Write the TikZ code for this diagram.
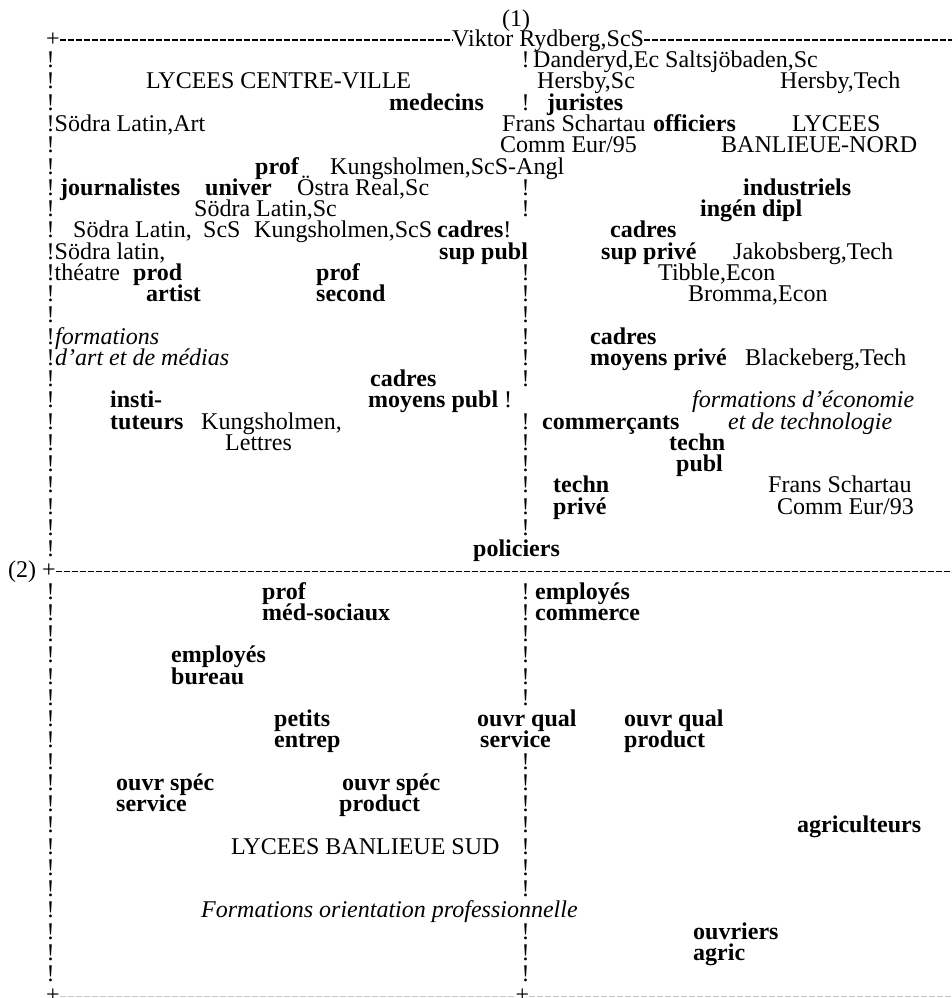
\documentclass[tikz,border=0pt]{standalone}
\usepackage{fontspec}
\setmainfont{Liberation Serif}
\newcommand\taille{\fontsize{24}{26}\selectfont}

\begin{document}
\begin{tikzpicture}[x=1pt,y=-21.25pt]
        \tikzstyle{every node}=[anchor=west,inner sep=0pt,text height=13pt,text depth=0pt,font=\taille]
        \tikzstyle{metier}=[font=\taille\bfseries]
        \tikzstyle{zone}=[font=\taille\itshape]
        \tikzstyle{axe}=[line width=1.3pt,dash pattern=on 5.9pt off 2.1pt]
        \useasboundingbox (0,-1.8824) rectangle (952,45.0824);

            % colonnes de points d'exclamation
            \foreach \r in {1,...,24,26,27,...,44}
                \node (g\r) at (46.5,\r) {!};
            \foreach \r in {1,3,7,8,11,12,...,16,18,19,...,23,26,27,...,31,34,35,...,40,42,43,44}
                \node (m\r) at (521.5,\r) {!};

            \node (un) at (502,-0.94) {(1)};
            \node (plusH) at (46,0) {+};
            \node (viktor) at (452,0) {Viktor Rydberg,ScS};
            \coordinate (finH) at (952,0);
            \node (deux) at (8,25) {(2) +};
            \coordinate (finM) at (952,25);
            \node (plusBG) at (46,45) {+};
            \node (plusBM) at (515.5,45) {+};
            \coordinate (finB) at (952,45);

            % haut gauche
            \node (lycCV) at (146,2) {LYCEES CENTRE-VILLE};
            \node[metier] (medecins) at (389,3) {medecins};
            \node (sodraArt) at (54.5,4) {Södra Latin,Art};
            \node[metier] (prof1) at (255,6) {prof};
            \node (kungsAngl) at (330,6) {Kungsholmen,ScS-Angl};
            \node[metier] (journ) at (60,7) {journalistes};
            \node[metier] (univer) at (205,7) {univer};
            \node (ostra) at (297,7) {Östra Real,Sc};
            \node (sodraSc) at (194,8) {Södra Latin,Sc};
            \node (sodraScS) at (73,9) {Södra Latin,};
            \node (scs) at (203,9) {ScS};
            \node (kungsScS) at (254,9) {Kungsholmen,ScS};
            \node (cadSupPu1) at (437,9) {\textbf{cadres}!};
            \node (sodraTh) at (54.5,10) {Södra latin,};
            \node[metier] (cadSupPu2) at (439,10) {sup publ};
            \node (theatre) at (54.5,11) {théatre};
            \node[metier] (prodArt1) at (133,11) {prod};
            \node[metier] (profSec1) at (316,11) {prof};
            \node[metier] (prodArt2) at (146,12) {artist};
            \node[metier] (profSec2) at (316,12) {second};
            \node[zone] (artMed1) at (55,14) {formations};
            \node[zone] (artMed2) at (55,15) {d'art et de médias};
            \node[metier] (cadMoyPu1) at (370,16) {cadres};
            \node[metier] (instit1) at (110,17) {insti-};
            \node (cadMoyPu2) at (368,17) {\textbf{moyens publ} !};
            \node[metier] (instit2) at (110,18) {tuteurs};
            \node (kungsLet1) at (201,18) {Kungsholmen,};
            \node (kungsLet2) at (225,19) {Lettres};

            % haut droite
            \node (danderyd) at (533,1) {Danderyd,Ec Saltsjöbaden,Sc};
            \node (hersbySc) at (537,2) {Hersby,Sc};
            \node (hersbyTech) at (780,2) {Hersby,Tech};
            \node[metier] (juristes) at (547,3) {juristes};
            \node (frans95a) at (502,4) {Frans Schartau};
            \node[metier] (officiers) at (653,4) {officiers};
            \node (lycN1) at (792,4) {LYCEES};
            \node (frans95b) at (500,5) {Comm Eur/95};
            \node (lycN2) at (721,5) {BANLIEUE-NORD};
            \node[metier] (industriels) at (743,7) {industriels};
            \node[metier] (ingen) at (700,8) {ingén dipl};
            \node[metier] (cadSupPr1) at (610,9) {cadres};
            \node[metier] (cadSupPr2) at (601,10) {sup privé};
            \node (jakobsberg) at (733,10) {Jakobsberg,Tech};
            \node (tibble) at (658,11) {Tibble,Econ};
            \node (bromma) at (688,12) {Bromma,Econ};
            \node[metier] (cadMoyPr1) at (590,14) {cadres};
            \node[metier] (cadMoyPr2) at (590,15) {moyens privé};
            \node (blackeberg) at (745,15) {Blackeberg,Tech};
            \node[zone] (ecoTech1) at (692,17) {formations d'économie};
            \node[metier] (commercants) at (542,18) {commerçants};
            \node[zone] (ecoTech2) at (728,18) {et de technologie};
            \node[metier] (techPu1) at (669,19) {techn};
            \node[metier] (techPu2) at (676,20) {publ};
            \node[metier] (techPr1) at (553,21) {techn};
            \node (frans93a) at (768,21) {Frans Schartau};
            \node[metier] (techPr2) at (553,22) {privé};
            \node (frans93b) at (777,22) {Comm Eur/93};
            \node[metier] (policiers) at (473,24) {policiers};

            % bas
            \node[metier] (profMed1) at (262,26) {prof};
            \node[metier] (profMed2) at (262,27) {méd-sociaux};
            \node[metier] (emplCom1) at (535,26) {employés};
            \node[metier] (emplCom2) at (535,27) {commerce};
            \node[metier] (emplBur1) at (171,29) {employés};
            \node[metier] (emplBur2) at (171,30) {bureau};
            \node[metier] (petits1) at (274,32) {petits};
            \node[metier] (petits2) at (274,33) {entrep};
            \node[metier] (oqServ1) at (477,32) {ouvr qual};
            \node[metier] (oqServ2) at (480,33) {service};
            \node[metier] (oqProd1) at (624,32) {ouvr qual};
            \node[metier] (oqProd2) at (624,33) {product};
            \node[metier] (osServ1) at (116,35) {ouvr spéc};
            \node[metier] (osServ2) at (116,36) {service};
            \node[metier] (osProd1) at (342,35) {ouvr spéc};
            \node[metier] (osProd2) at (339,36) {product};
            \node[metier] (agriculteurs) at (797,37) {agriculteurs};
            \node (lycS) at (231,38) {LYCEES BANLIEUE SUD};
            \node[zone] (proFor) at (201,41) {Formations orientation professionnelle};
            \node[metier] (ouvAgr1) at (693,42) {ouvriers};
            \node[metier] (ouvAgr2) at (693,43) {agric};

            \draw[axe] (plusH.east |- finH) -- (viktor.west |- finH)
            (viktor.east |- finH) -- (finH)
            (deux.east |- finM) -- (finM)
            ;
            \draw[axe,gray!45] (plusBG.east |- finB) -- (plusBM.west |- finB)
            (plusBM.east |- finB) -- (finB)
            ;
\end{tikzpicture}
\end{document}
